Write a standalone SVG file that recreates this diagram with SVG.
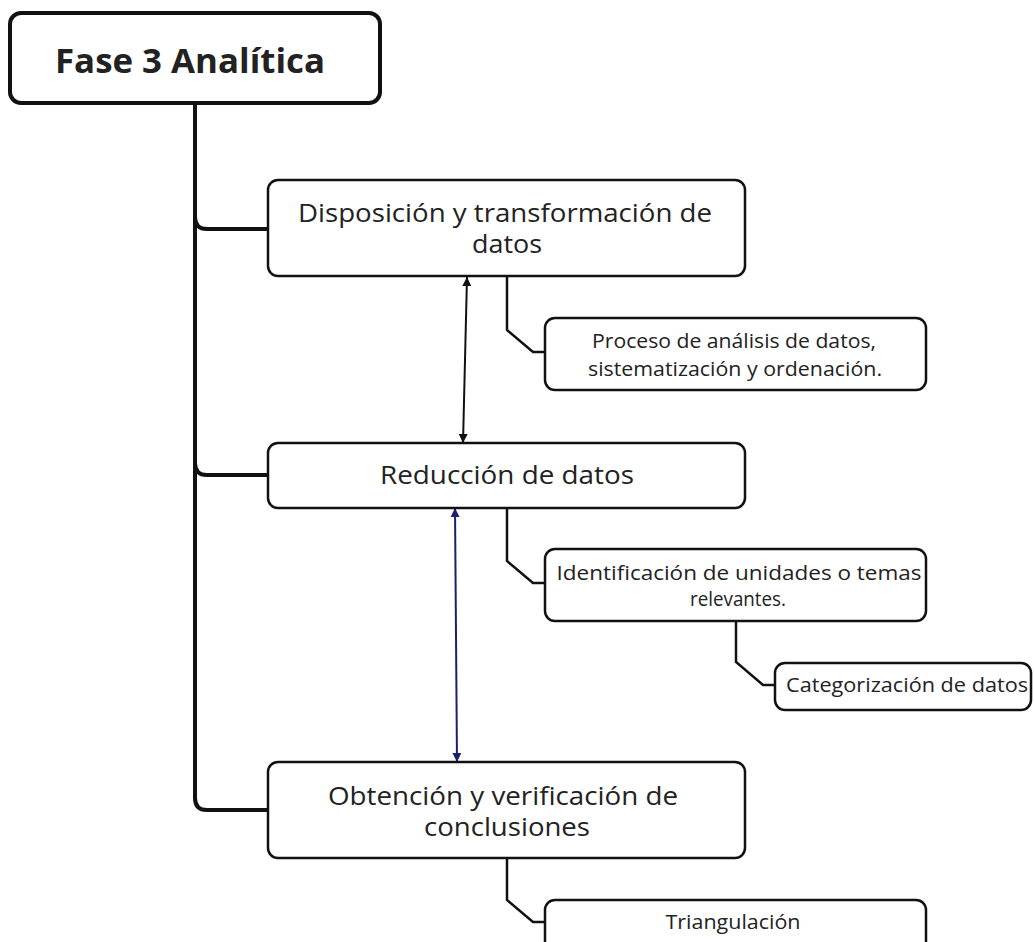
<svg xmlns="http://www.w3.org/2000/svg" width="1034" height="942" viewBox="0 0 1034 942">
<style>
.box{fill:#fff;stroke:#111;stroke-width:2.5}
.title{fill:#fff;stroke:#111;stroke-width:4}
.t{font-family:"Open Sans","Noto Sans","DejaVu Sans",sans-serif;fill:#222;text-anchor:middle}
.big{font-size:25px}
.small{font-size:20px}
.conn{fill:none;stroke:#111;stroke-width:2.5}
.trunk{fill:none;stroke:#111;stroke-width:4}
</style>
<defs>
<marker id="ahk" viewBox="0 0 10 10" refX="10" refY="5" markerWidth="9" markerHeight="9" markerUnits="userSpaceOnUse" orient="auto-start-reverse"><path d="M0,0 L10,5 L0,10 z" fill="#111"/></marker>
<marker id="ahn" viewBox="0 0 10 10" refX="10" refY="5" markerWidth="9" markerHeight="9" markerUnits="userSpaceOnUse" orient="auto-start-reverse"><path d="M0,0 L10,5 L0,10 z" fill="#1b1f6e"/></marker>
</defs>
<rect width="1034" height="942" fill="#fff"/>
<g id="connectors">
<path class="trunk" d="M195,103 V798 Q195,810 207,810 H268"/>
<path class="trunk" d="M195,217 Q195,229 207,229 H268"/>
<path class="trunk" d="M195,463 Q195,475 207,475 H268"/>
<path class="conn" d="M507,276 V330 L533,352 H545"/>
<path class="conn" d="M507,508 V561 L533,583 H545"/>
<path class="conn" d="M736,621 V662 L763,685 H775"/>
<path class="conn" d="M507,858 V900 L533,922 H545"/>
<line x1="467" y1="277" x2="463" y2="443" stroke="#111" stroke-width="2" marker-start="url(#ahk)" marker-end="url(#ahk)"/>
<line x1="455" y1="508" x2="457" y2="762" stroke="#1b1f6e" stroke-width="2" marker-start="url(#ahn)" marker-end="url(#ahn)"/>
</g>
<g id="n-title">
<rect class="title" x="10" y="13" width="370" height="90" rx="11"/>
<text class="t" x="190" y="73" font-size="34" font-weight="bold" textLength="270" lengthAdjust="spacingAndGlyphs">Fase 3 Analítica</text>
</g>
<g id="n-disposicion">
<rect class="box" x="268" y="180" width="477" height="96" rx="10"/>
<text class="t big" x="505" y="222" textLength="414" lengthAdjust="spacingAndGlyphs">Disposición y transformación de</text>
<text class="t big" x="507" y="253" textLength="70" lengthAdjust="spacingAndGlyphs">datos</text>
</g>
<g id="n-reduccion">
<rect class="box" x="268" y="443" width="477" height="65" rx="10"/>
<text class="t big" x="507" y="484" textLength="254" lengthAdjust="spacingAndGlyphs">Reducción de datos</text>
</g>
<g id="n-obtencion">
<rect class="box" x="268" y="762" width="477" height="96" rx="10"/>
<text class="t big" x="503" y="805" textLength="350" lengthAdjust="spacingAndGlyphs">Obtención y verificación de</text>
<text class="t big" x="507" y="836" textLength="166" lengthAdjust="spacingAndGlyphs">conclusiones</text>
</g>
<g id="n-proceso">
<rect class="box" x="545" y="318" width="381" height="72" rx="10"/>
<text class="t small" x="734" y="348" textLength="284" lengthAdjust="spacingAndGlyphs">Proceso de análisis de datos,</text>
<text class="t small" x="735" y="376" textLength="294" lengthAdjust="spacingAndGlyphs">sistematización y ordenación.</text>
</g>
<g id="n-identificacion">
<rect class="box" x="545" y="549" width="381" height="72" rx="10"/>
<text class="t small" x="739" y="580" textLength="365" lengthAdjust="spacingAndGlyphs">Identificación de unidades o temas</text>
<text class="t small" x="738" y="606" textLength="96" lengthAdjust="spacingAndGlyphs">relevantes.</text>
</g>
<g id="n-categorizacion">
<rect class="box" x="775" y="663" width="256" height="47" rx="10"/>
<text class="t small" x="907" y="692" textLength="242" lengthAdjust="spacingAndGlyphs">Categorización de datos</text>
</g>
<g id="n-triangulacion">
<rect class="box" x="545" y="900" width="381" height="60" rx="10"/>
<text class="t small" x="733" y="929" textLength="135" lengthAdjust="spacingAndGlyphs">Triangulación</text>
</g>
</svg>
